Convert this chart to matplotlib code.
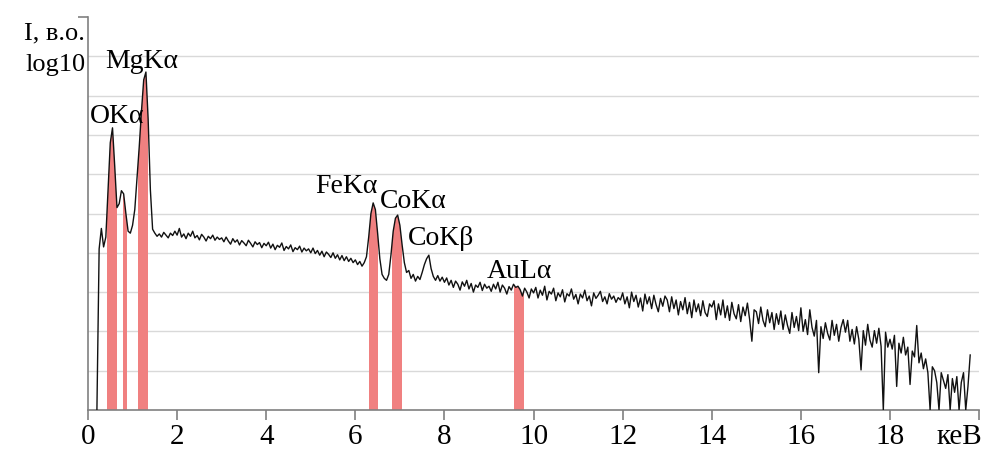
import numpy as np
import matplotlib
matplotlib.use('Agg')
import matplotlib.pyplot as plt

plt.rcParams['font.family'] = ['Liberation Serif', 'DejaVu Serif']

# spectrum, log10 intensity, 0.05 keV step from 0.20 keV
energy = np.round(np.arange(0.20, 19.801, 0.05), 2)
counts = (
    # 0.20 - 0.95
    [0.00, 4.10, 4.62, 4.15, 4.40, 5.60, 6.80, 7.18, 6.20, 5.15, 5.25, 5.58, 5.50, 5.00, 4.55, 4.50]
    # 1
    + [4.70, 5.10, 5.90, 6.70, 7.60, 8.40, 8.60, 7.40, 5.60, 4.60, 4.50, 4.42, 4.48, 4.40, 4.52, 4.45, 4.38, 4.50, 4.44, 4.55]
    # 2
    + [4.45, 4.62, 4.40, 4.48, 4.36, 4.50, 4.42, 4.55, 4.38, 4.44, 4.33, 4.47, 4.40, 4.30, 4.42, 4.36, 4.45, 4.32, 4.40, 4.34]
    # 3
    + [4.38, 4.28, 4.40, 4.30, 4.22, 4.36, 4.27, 4.33, 4.20, 4.31, 4.25, 4.18, 4.32, 4.24, 4.15, 4.28, 4.21, 4.26, 4.13, 4.24]
    # 4
    + [4.18, 4.27, 4.12, 4.22, 4.08, 4.19, 4.14, 4.25, 4.06, 4.16, 4.10, 4.20, 4.03, 4.13, 4.08, 4.17, 4.02, 4.12, 4.05, 4.10]
    # 5
    + [4.00, 4.12, 3.98, 4.06, 3.94, 4.04, 3.90, 4.02, 3.96, 3.88, 4.00, 3.86, 3.95, 3.82, 3.93, 3.80, 3.90, 3.78, 3.86, 3.75]
    # 6
    + [3.82, 3.70, 3.78, 3.66, 3.75, 3.90, 4.40, 5.00, 5.27, 5.10, 4.50, 3.85, 3.45, 3.35, 3.30, 3.45, 3.95, 4.55, 4.88, 4.96]
    # 7
    + [4.70, 4.20, 3.75, 3.50, 3.55, 3.35, 3.45, 3.28, 3.40, 3.32, 3.50, 3.70, 3.85, 3.94, 3.60, 3.40, 3.30, 3.42, 3.28, 3.38]
    # 8
    + [3.25, 3.36, 3.18, 3.30, 3.12, 3.28, 3.20, 3.05, 3.26, 3.15, 3.30, 3.08, 3.22, 3.00, 3.18, 3.12, 3.25, 3.04, 3.20, 3.10]
    # 9
    + [3.15, 3.02, 3.20, 3.08, 3.25, 3.00, 3.18, 3.10, 2.95, 3.14, 3.05, 3.20, 3.12, 3.15, 3.06, 2.90, 3.10, 3.00, 2.85, 3.08]
    # 10
    + [2.98, 3.12, 2.85, 3.05, 2.92, 3.15, 2.80, 3.02, 2.95, 3.10, 2.78, 2.98, 2.88, 3.06, 2.75, 2.96, 2.90, 3.08, 2.82, 2.94]
    # 11
    + [2.70, 2.95, 2.85, 3.05, 2.78, 2.90, 2.65, 2.98, 2.84, 2.92, 3.02, 2.76, 2.88, 2.70, 2.96, 2.82, 2.90, 2.74, 2.86, 2.80]
    # 12
    + [2.98, 2.70, 2.88, 2.60, 3.00, 2.76, 2.92, 2.62, 2.85, 2.52, 2.95, 2.70, 2.88, 2.58, 2.92, 2.68, 2.50, 2.84, 2.64, 2.90]
    # 13
    + [2.80, 2.50, 2.88, 2.58, 2.80, 2.42, 2.76, 2.55, 2.86, 2.45, 2.74, 2.35, 2.80, 2.50, 2.70, 2.40, 2.78, 2.48, 2.38, 2.70]
    # 14
    + [2.62, 2.78, 2.30, 2.70, 2.42, 2.80, 2.35, 2.65, 2.28, 2.74, 2.45, 2.32, 2.68, 2.25, 2.62, 2.40, 2.72, 2.30, 1.75, 2.55]
    # 15
    + [2.50, 2.20, 2.62, 2.28, 2.12, 2.55, 2.22, 2.48, 2.05, 2.45, 2.18, 2.52, 2.05, 2.42, 2.15, 1.95, 2.48, 2.10, 2.38, 2.02]
    # 16
    + [2.60, 2.00, 2.30, 1.92, 2.55, 2.10, 1.88, 2.28, 0.95, 2.12, 1.82, 2.22, 1.95, 1.78, 2.28, 1.90, 2.18, 1.75, 2.10, 2.30]
    # 17
    + [1.98, 2.28, 1.75, 2.05, 1.68, 2.12, 1.80, 1.02, 2.02, 1.65, 2.18, 1.78, 1.60, 2.02, 1.70, 2.08, 1.62, 0.00, 1.98, 1.60]
    # 18
    + [1.80, 1.55, 1.90, 0.60, 1.70, 1.45, 1.85, 1.40, 1.60, 0.65, 1.50, 1.35, 2.15, 1.20, 1.45, 1.05, 1.30, 0.95, 0.00, 1.10]
    # 19.00 - 19.80
    + [1.00, 0.70, 0.00, 0.95, 0.75, 0.55, 0.90, 0.00, 0.80, 0.45, 0.85, 0.00, 0.70, 0.95, 0.00, 0.60, 1.40]
)
counts = np.array(counts)
assert len(counts) == len(energy)

# integration windows (keV) shaded in red
band_lo = [0.43, 0.78, 1.13, 6.30, 6.82, 9.55]
band_hi = [0.66, 0.87, 1.35, 6.50, 7.04, 9.78]

# peak labels
peak_names = ['OKα', 'MgKα', 'FeKα', 'CoKα', 'CoKβ', 'AuLα']
label_x = [0.04, 0.38, 5.09, 6.55, 7.17, 8.95]
label_y = [7.30, 8.70, 5.52, 5.14, 4.20, 3.36]

xticks = [0, 2, 4, 6, 8, 10, 12, 14, 16, 18, 20]
xticklabels = ['0', '2', '4', '6', '8', '10', '12', '14', '16', '18', '']

fig = plt.figure(figsize=(9.91, 4.51), dpi=100)
ax = fig.add_axes([0.0888, 0.0909, 0.8992, 0.8714])

ax.set_xlim(0, 20)
ax.set_ylim(0, 10)

# grid
ax.set_yticks(range(1, 11), minor=True)
ax.grid(which='minor', axis='y', color='#d9d9d9', linewidth=1.0)
ax.set_axisbelow(True)

# red bands clipped to the area under the spectrum
under = ax.fill_between(energy, 0, counts, color='none', linewidth=0)
clip = under.get_paths()[0]
for lo, hi in zip(band_lo, band_hi):
    sp = ax.axvspan(lo, hi, color='#f08080', linewidth=0, zorder=2)
    sp.set_clip_path(clip, ax.transData)

ax.plot(energy, counts, color='#111111', linewidth=1.0, zorder=3)

for name, lx, ly in zip(peak_names, label_x, label_y):
    ax.text(lx, ly, name, fontsize=20, ha='left', va='baseline', zorder=4)

# axes styling
for s in ['top', 'right']:
    ax.spines[s].set_visible(False)
for s in ['left', 'bottom']:
    ax.spines[s].set_color('#808080')
    ax.spines[s].set_linewidth(1.2)

ax.set_xticks(xticks)
ax.set_xticklabels(xticklabels, fontsize=21)
ax.set_yticks([10])
ax.set_yticklabels([''])
ax.tick_params(axis='both', which='major', color='#808080', length=7, width=1.2, pad=3)
ax.tick_params(axis='y', which='minor', length=0)

ax.text(19.55, -0.068, 'кеВ', transform=ax.get_xaxis_transform(), fontsize=21,
        ha='center', va='center')

fig.text(0.086, 0.912, 'I, в.о.', fontsize=19, ha='right', va='baseline')
fig.text(0.086, 0.843, 'log10', fontsize=19, ha='right', va='baseline')

fig.savefig('out.png', dpi=100)
